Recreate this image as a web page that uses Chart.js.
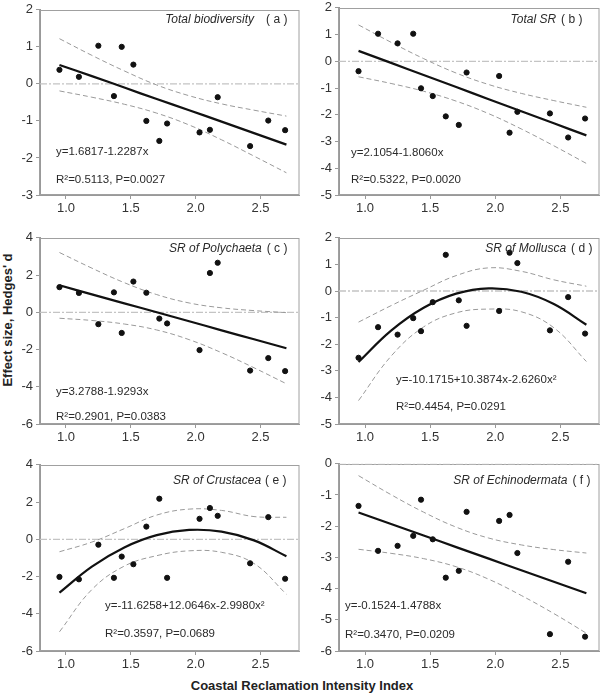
<!DOCTYPE html>
<html lang="en">
<head>
  <meta charset="UTF-8" />
  <title>Effect size vs Coastal Reclamation Intensity Index</title>
  <script src="https://cdn.jsdelivr.net/npm/chart.js"></script>
  <style>
    body {
      margin: 0;
      background: #fff;
      font-family: 'Liberation Sans', Arial, sans-serif;
    }
    #page {
      position: relative;
      width: 603px;
      height: 693px;
      overflow: hidden;
    }
    #page canvas {
      position: absolute;
    }
    .ytitle {
      position: absolute;
      left: 7px;
      top: 320px;
      transform: translate(-50%, -50%) rotate(-90deg);
      font-weight: bold;
      font-size: 13px;
      color: #222;
      white-space: nowrap;
    }
    .xtitle {
      position: absolute;
      left: 302px;
      top: 685px;
      transform: translate(-50%, -50%);
      font-weight: bold;
      font-size: 13px;
      color: #222;
      white-space: nowrap;
    }
  </style>
</head>
<body>
  <div id="page">
    <div class="ytitle">Effect size, Hedges' d</div>
    <div class="xtitle">Coastal Reclamation Intensity Index</div>
  </div>

  <script>
    // reclamation intensity index of the 15 sites (same in every panel)
    const siteX = [0.95, 1.10, 1.25, 1.37, 1.43, 1.52, 1.62, 1.72, 1.78, 2.03, 2.11, 2.17, 2.42, 2.56, 2.69];
    const curveX = [0.95, 1.2, 1.45, 1.7, 1.95, 2.2, 2.45, 2.7];
    const xTicks = [1.0, 1.5, 2.0, 2.5];

    // (a) total biodiversity
    const bioY   = [0.38, 0.19, 1.03, -0.33, 1.00, 0.52, -1.00, -1.54, -1.07, -1.31, -1.24, -0.36, -1.68, -0.99, -1.25];
    const bioFit = [0.51, 0.21, -0.10, -0.41, -0.71, -1.02, -1.33, -1.64];
    const bioUp  = [1.22, 0.77, 0.35, -0.03, -0.32, -0.54, -0.71, -0.87];
    const bioLow = [-0.19, -0.36, -0.55, -0.79, -1.11, -1.51, -1.95, -2.40];

    // (b) total SR
    const srY   = [-0.37, 1.03, 0.67, 1.03, -1.01, -1.30, -2.06, -2.38, -0.42, -0.55, -2.67, -1.89, -1.95, -2.85, -2.14];
    const srFit = [0.39, -0.06, -0.51, -0.96, -1.42, -1.87, -2.32, -2.77];
    const srUp  = [1.36, 0.71, 0.10, -0.44, -0.87, -1.20, -1.47, -1.72];
    const srLow = [-0.58, -0.83, -1.12, -1.49, -1.96, -2.53, -3.16, -3.82];

    // (c) SR of Polychaeta
    const polyY   = [1.35, 1.04, -0.64, 1.07, -1.11, 1.65, 1.05, -0.34, -0.60, -2.03, 2.11, 2.66, -3.13, -2.46, -3.16];
    const polyFit = [1.45, 0.96, 0.48, 0.00, -0.48, -0.97, -1.45, -1.93];
    const polyUp  = [3.21, 2.37, 1.59, 0.95, 0.50, 0.24, 0.09, -0.02];
    const polyLow = [-0.32, -0.44, -0.63, -0.95, -1.47, -2.17, -2.98, -3.84];

    // (d) SR of Mollusca
    const mollY   = [-2.51, -1.36, -1.64, -1.02, -1.51, -0.42, 1.36, -0.35, -1.31, -0.75, 1.44, 1.05, -1.48, -0.23, -1.60];
    const mollFit = [-2.67, -1.49, -0.63, -0.10, 0.10, -0.03, -0.49, -1.27];
    const mollUp  = [-1.17, -0.55, 0.03, 0.58, 0.87, 0.74, 0.42, 0.18];
    const mollLow = [-4.12, -2.45, -1.35, -0.82, -0.68, -0.78, -1.38, -2.65];

    // (e) SR of Crustacea
    const crusY   = [-2.02, -2.15, -0.29, -2.07, -0.93, -1.34, 0.68, 2.18, -2.07, 1.10, 1.68, 1.26, -1.29, 1.19, -2.12];
    const crusFit = [-2.87, -1.47, -0.44, 0.22, 0.50, 0.41, -0.06, -0.91];
    const crusUp  = [-0.67, -0.15, 0.57, 1.30, 1.62, 1.55, 1.22, 1.18];
    const crusLow = [-4.97, -2.70, -1.44, -0.88, -0.62, -0.70, -1.30, -2.95];

    // (f) SR of Echinodermata
    const echiY   = [-1.35, -2.79, -2.63, -2.31, -1.15, -2.42, -3.65, -3.43, -1.54, -1.83, -1.64, -2.86, -5.46, -3.14, -5.54];
    const echiFit = [-1.56, -1.93, -2.30, -2.67, -3.04, -3.41, -3.78, -4.15];
    const echiUp  = [-0.38, -0.99, -1.55, -2.03, -2.38, -2.60, -2.75, -2.86];
    const echiLow = [-2.74, -2.87, -3.04, -3.30, -3.70, -4.22, -4.80, -5.43];

    const panels = [
      { left: 0, width: 303, top: 7, bottom: 195, yMin: -3, yMax: 2, yStep: 1,
        y: bioY, fit: bioFit, up: bioUp, low: bioLow,
        name: 'Total biodiversity', tag: '( a )', tagRight: 12, tagGap: 12, tagY: 10,
        eq: 'y=1.6817-1.2287x', r2: 'R²=0.5113, P=0.0027', eqX: 16, eqY: 142, r2Y: 170 },
      { left: 299, width: 304, top: 5, bottom: 195, yMin: -5, yMax: 2, yStep: 1,
        y: srY, fit: srFit, up: srUp, low: srLow,
        name: 'Total SR', tag: '( b )', tagRight: 17, tagGap: 5, tagY: 12,
        eq: 'y=2.1054-1.8060x', r2: 'R²=0.5322, P=0.0020', eqX: 12, eqY: 145, r2Y: 172 },
      { left: 0, width: 303, top: 235, bottom: 424, yMin: -6, yMax: 4, yStep: 2,
        y: polyY, fit: polyFit, up: polyUp, low: polyLow,
        name: 'SR of Polychaeta', tag: '( c )', tagRight: 12, tagGap: 5, tagY: 11,
        eq: 'y=3.2788-1.9293x', r2: 'R²=0.2901, P=0.0383', eqX: 16, eqY: 154, r2Y: 179 },
      { left: 299, width: 304, top: 235, bottom: 424, yMin: -5, yMax: 2, yStep: 1,
        y: mollY, fit: mollFit, up: mollUp, low: mollLow,
        name: 'SR of Mollusca', tag: '( d )', tagRight: 7, tagGap: 5, tagY: 11,
        eq: 'y=-10.1715+10.3874x-2.6260x²', r2: 'R²=0.4454, P=0.0291', eqX: 57, eqY: 142, r2Y: 169 },
      { left: 0, width: 303, top: 462, bottom: 651, yMin: -6, yMax: 4, yStep: 2,
        y: crusY, fit: crusFit, up: crusUp, low: crusLow,
        name: 'SR of Crustacea', tag: '( e )', tagRight: 13, tagGap: 4, tagY: 16,
        eq: 'y=-11.6258+12.0646x-2.9980x²', r2: 'R²=0.3597, P=0.0689', eqX: 65, eqY: 141, r2Y: 169 },
      { left: 299, width: 304, top: 461, bottom: 651, yMin: -6, yMax: 0, yStep: 1,
        y: echiY, fit: echiFit, up: echiUp, low: echiLow,
        name: 'SR of Echinodermata', tag: '( f )', tagRight: 9, tagGap: 5, tagY: 17,
        eq: 'y=-0.1524-1.4788x', r2: 'R²=0.3470, P=0.0209', eqX: 6, eqY: 142, r2Y: 171 }
    ];

    const pair = (xs, ys) => xs.map((x, i) => ({ x: x, y: ys[i] }));
    const FONT = "'Liberation Sans', Arial, sans-serif";

    function notesPlugin(p) {
      return {
        id: 'notes',
        beforeDatasetsDraw(chart) {
          const ca = chart.chartArea;
          const ctx = chart.ctx;
          ctx.save();
          ctx.strokeStyle = '#a0a0a0';
          ctx.lineWidth = 1;
          ctx.strokeRect(Math.round(ca.left) - 0.5, Math.round(ca.top) + 0.5,
                         Math.round(ca.right - ca.left) + 0.5, Math.round(ca.bottom - ca.top) - 1);
          ctx.restore();
        },
        afterDraw(chart) {
          const ca = chart.chartArea;
          const ctx = chart.ctx;
          ctx.save();
          ctx.fillStyle = '#2a2a2a';
          ctx.textBaseline = 'middle';
          // panel title
          ctx.textAlign = 'right';
          ctx.font = '12px ' + FONT;
          const tx = ca.right - p.tagRight;
          ctx.fillText(p.tag, tx, ca.top + p.tagY);
          const w = ctx.measureText(p.tag).width;
          ctx.font = 'italic 12px ' + FONT;
          ctx.fillText(p.name, tx - w - p.tagGap, ca.top + p.tagY);
          // equation and stats
          ctx.textAlign = 'left';
          ctx.font = '11.5px ' + FONT;
          ctx.fillText(p.eq, ca.left + p.eqX, ca.top + p.eqY);
          ctx.fillText(p.r2, ca.left + p.eqX, ca.top + p.r2Y);
          ctx.restore();
        }
      };
    }

    const page = document.getElementById('page');

    panels.forEach(p => {
      const cv = document.createElement('canvas');
      const top = p.top - 8;
      const h = p.bottom - top + 24;
      cv.width = p.width;
      cv.height = h;
      cv.style.left = p.left + 'px';
      cv.style.top = top + 'px';
      cv.style.width = p.width + 'px';
      cv.style.height = h + 'px';
      page.appendChild(cv);

      new Chart(cv.getContext('2d'), {
        data: {
          datasets: [
            {
              type: 'scatter',
              data: pair(siteX, p.y),
              backgroundColor: '#111',
              borderColor: '#111',
              pointRadius: 2.6,
              pointHoverRadius: 2.6
            },
            {
              type: 'line',
              data: pair(curveX, p.fit),
              borderColor: '#111',
              borderWidth: 2.2,
              pointRadius: 0,
              fill: false,
              tension: 0.4
            },
            {
              type: 'line',
              data: pair(curveX, p.up),
              borderColor: '#9a9a9a',
              borderWidth: 1,
              borderDash: [5, 3],
              pointRadius: 0,
              fill: false,
              tension: 0.4
            },
            {
              type: 'line',
              data: pair(curveX, p.low),
              borderColor: '#9a9a9a',
              borderWidth: 1,
              borderDash: [5, 3],
              pointRadius: 0,
              fill: false,
              tension: 0.4
            },
            {
              type: 'line',
              data: [{ x: 0.8, y: 0 }, { x: 2.8, y: 0 }],
              borderColor: '#c4c4c4',
              borderWidth: 1.3,
              borderDash: [7, 2, 2, 2],
              pointRadius: 0,
              fill: false
            }
          ]
        },
        options: {
          responsive: false,
          animation: false,
          events: [],
          layout: { padding: { top: 8, left: 0, right: 1, bottom: 0 } },
          plugins: {
            legend: { display: false },
            tooltip: { enabled: false }
          },
          scales: {
            x: {
              type: 'linear',
              min: 0.8,
              max: 2.8,
              afterBuildTicks: s => { s.ticks = xTicks.map(v => ({ value: v })); },
              afterFit: s => { s.height = 24; },
              grid: { drawOnChartArea: false, tickLength: 4, color: '#999' },
              border: { color: '#999' },
              ticks: {
                padding: 2,
                color: '#333',
                font: { family: FONT, size: 13 },
                callback: v => Number(v).toFixed(1)
              }
            },
            y: {
              type: 'linear',
              min: p.yMin,
              max: p.yMax,
              afterFit: s => { s.width = 40; },
              grid: { drawOnChartArea: false, tickLength: 4, color: '#999' },
              border: { color: '#999' },
              ticks: {
                stepSize: p.yStep,
                padding: 3,
                color: '#333',
                font: { family: FONT, size: 13 }
              }
            }
          }
        },
        plugins: [notesPlugin(p)]
      });
    });
  </script>
</body>
</html>
